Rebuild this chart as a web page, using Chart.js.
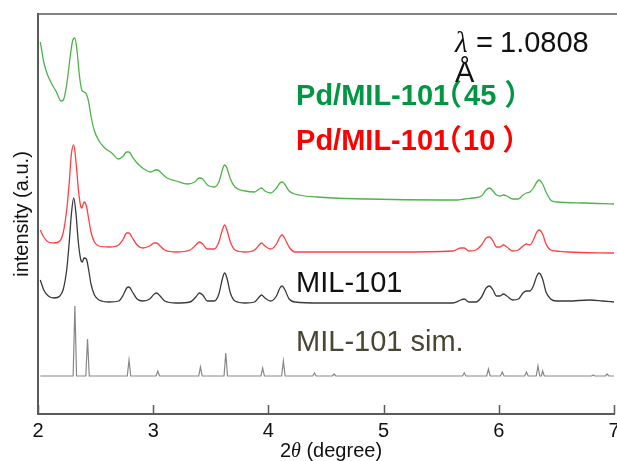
<!DOCTYPE html>
<html><head><meta charset="utf-8">
<script src="https://cdn.jsdelivr.net/npm/chart.js@4/dist/chart.umd.min.js"></script>
<style>html,body{margin:0;padding:0;background:#fff}#wrap{width:617px;height:461px}</style>
</head><body><div id="wrap"><canvas id="c" width="617" height="461"></canvas></div>
<script>
// ---- data (2θ in degrees, intensity in arbitrary units) ----
const xTicks = [2, 3, 4, 5, 6, 7];

const pd45X = [2.02,2.05,2.08,2.12,2.16,2.20,2.22,2.25,2.28,2.30,2.32,2.34,2.36,2.38,2.40,2.42,2.44,2.46,2.49,2.53,2.58,2.64,2.70,2.74,2.77,2.79,2.82,2.86,2.92,2.98,3.02,3.04,3.07,3.12,3.20,3.30,3.36,3.40,3.43,3.47,3.53,3.57,3.60,3.62,3.64,3.67,3.71,3.80,3.88,3.92,3.94,3.97,4.02,4.07,4.10,4.12,4.14,4.18,4.23,4.42,4.86,5.50,5.64,5.70,5.78,5.85,5.89,5.92,5.95,5.98,6.01,6.04,6.07,6.12,6.17,6.21,6.24,6.27,6.30,6.33,6.35,6.38,6.41,6.45,6.50,6.73,7.00];
const pd45Y = [372,352,340,330,322,313,314,330,358,373,376,362,338,324,322,320,312,298,283,273,266,261,255,258,262,262,257,251,245,242,244,244,241,236,233,230,232,236,235,229,227,232,244,249,246,235,227,223,222,225,226,223,221,226,231,232,230,223,220,217,215,214,214,215,216,218,224,226,223,219,218,219,218,215,215,219,221,222,226,232,234,230,222,214,212,211,210];

const pd10X = [2.02,2.05,2.09,2.14,2.19,2.22,2.25,2.27,2.29,2.31,2.33,2.35,2.37,2.38,2.40,2.42,2.44,2.46,2.49,2.53,2.62,2.70,2.74,2.77,2.79,2.82,2.86,2.91,2.97,3.01,3.03,3.06,3.10,3.20,3.32,3.37,3.40,3.43,3.47,3.53,3.57,3.60,3.62,3.64,3.67,3.71,3.80,3.88,3.92,3.94,3.97,4.02,4.07,4.10,4.12,4.14,4.18,4.23,4.45,5.10,5.60,5.67,5.70,5.74,5.80,5.85,5.89,5.92,5.95,5.98,6.01,6.04,6.07,6.12,6.17,6.21,6.24,6.27,6.30,6.33,6.35,6.38,6.41,6.45,6.50,6.60,7.00];
const pd10Y = [184,177,172,171,173,182,205,230,260,269,252,225,208,206,212,208,195,182,172,168,167,169,175,181,181,176,169,166,168,171,171,168,164,162,164,169,172,170,165,165,172,184,189,184,172,164,162,164,169,171,168,165,170,177,179,176,167,162,162,162,163,166,166,163,164,169,176,177,173,167,167,169,167,163,164,168,170,169,174,182,184,180,170,164,163,162,161];

const milX = [2.02,2.05,2.09,2.14,2.19,2.22,2.25,2.27,2.29,2.31,2.33,2.35,2.37,2.385,2.40,2.42,2.44,2.46,2.49,2.53,2.62,2.70,2.74,2.77,2.79,2.82,2.86,2.91,2.97,3.01,3.03,3.06,3.10,3.20,3.32,3.37,3.40,3.43,3.47,3.53,3.57,3.60,3.62,3.64,3.67,3.71,3.80,3.88,3.92,3.94,3.97,4.02,4.07,4.10,4.12,4.14,4.18,4.23,4.45,5.10,5.60,5.67,5.70,5.74,5.80,5.85,5.89,5.92,5.95,5.98,6.01,6.04,6.07,6.12,6.17,6.21,6.24,6.27,6.30,6.33,6.35,6.38,6.41,6.45,6.50,6.60,6.79,6.90,7.00];
const milY = [134,124,118,116,118,125,145,170,200,216,200,172,155,152,156,155,144,130,119,114,112,113,119,126,127,122,115,113,115,120,121,118,113,111,112,117,121,119,113,113,120,135,141,136,121,113,111,112,117,119,116,113,118,126,128,125,115,112,111,111,111,114,115,112,112,117,126,128,124,118,118,120,118,114,115,121,123,123,128,138,141,135,122,115,113,113,114,113,112];

const simX = [2.02,2.305,2.32,2.335,2.415,2.43,2.445,2.775,2.79,2.805,3.025,3.04,3.055,3.395,3.41,3.425,3.615,3.63,3.645,3.935,3.95,3.965,4.115,4.13,4.145,4.385,4.40,4.415,4.555,4.57,4.585,5.685,5.70,5.715,5.895,5.91,5.925,6.015,6.03,6.045,6.225,6.24,6.255,6.325,6.34,6.355,6.37,6.38,6.395,6.805,6.82,6.835,6.925,6.94,6.955,7.00];
const simY = [38,38,108,38,38,75,38,38,54,38,38,43,38,38,47,38,38,61,38,38,46,38,38,53,38,38,41,38,38,40,38,38,41,38,38,45,38,38,42,38,38,42,38,38,48,38,38,43,38,38,39,38,38,40,38,38];

const seriesNames = ['Pd/MIL-101（45）', 'Pd/MIL-101（10）', 'MIL-101', 'MIL-101 sim.'];
const xTitle = ['2', 'θ', ' (degree)'];
const yTitle = 'intensity (a.u.)';
const wavelength = ['λ', '=', '1.0808', 'Å'];

function pts(xs, ys) { return xs.map((x, i) => ({ x: x, y: ys[i] })); }

const SANS = '"Liberation Sans", Arial, Helvetica, sans-serif';
const CJK = '"Noto Sans CJK JP", "Noto Sans CJK SC", sans-serif';

function drawParts(ctx, x, y, parts, color) {
  ctx.fillStyle = color;
  ctx.textBaseline = 'alphabetic';
  ctx.textAlign = 'left';
  let cursor = x;
  parts.forEach((p, i) => {
    ctx.font = p.font;
    const m = ctx.measureText(p.t);
    let dx;
    if (i === 0) dx = x;
    else dx = cursor + (p.gap || 0) + m.actualBoundingBoxLeft;
    ctx.fillText(p.t, dx, y);
    cursor = dx + m.actualBoundingBoxRight;
  });
}

function splitParen(label) {
  const a = label.indexOf('（'), b = label.indexOf('）');
  return [label.slice(0, a), '（', label.slice(a + 1, b), '）'];
}

const deco = {
  id: 'deco',
  afterDraw(chart) {
    const ctx = chart.ctx, ca = chart.chartArea;
    const xs = chart.scales.x, ys = chart.scales.y;
    ctx.save();
    ctx.strokeStyle = '#5a5a5a'; ctx.lineWidth = 1.5;
    ctx.beginPath(); ctx.moveTo(ca.left, ca.top); ctx.lineTo(chart.width, ca.top); ctx.stroke();
    xTicks.forEach(t => {
      const px = Math.round(xs.getPixelForValue(t)) + 0.5;
      ctx.beginPath(); ctx.moveTo(px, ca.bottom); ctx.lineTo(px, ca.bottom - 9); ctx.stroke();
    });
    const tf = ['20px ' + SANS, 'italic 20px "Liberation Serif", serif', '20px ' + SANS];
    let tw = 0;
    xTitle.forEach((s, i) => { ctx.font = tf[i]; tw += ctx.measureText(s).width; });
    let cx = 331 - tw / 2;
    ctx.fillStyle = '#111'; ctx.textBaseline = 'alphabetic'; ctx.textAlign = 'left';
    xTitle.forEach((s, i) => { ctx.font = tf[i]; ctx.fillText(s, cx, 457); cx += ctx.measureText(s).width; });

    const lx = xs.getPixelForValue(4.24);
    const bold = 'bold 29px ' + SANS, boldC = 'bold 29px ' + CJK;
    const g = splitParen(seriesNames[0]);
    drawParts(ctx, lx, ys.getPixelForValue(309), [
      { t: g[0], font: bold }, { t: g[1], font: boldC, gap: 3 }, { t: g[2], font: bold, gap: 3 }, { t: g[3], font: boldC, gap: 9 }
    ], 'rgb(0,150,66)');
    const r = splitParen(seriesNames[1]);
    drawParts(ctx, lx, ys.getPixelForValue(264), [
      { t: r[0], font: bold }, { t: r[1], font: boldC, gap: 3 }, { t: r[2], font: bold, gap: 3 }, { t: r[3], font: boldC, gap: 9 }
    ], '#ff0000');
    ctx.font = '29px ' + SANS; ctx.fillStyle = '#111';
    ctx.fillText(seriesNames[2], lx, ys.getPixelForValue(122));
    ctx.fillStyle = 'rgb(74,70,52)';
    ctx.fillText(seriesNames[3], lx, ys.getPixelForValue(63));
    const wx = xs.getPixelForValue(5.62);
    drawParts(ctx, wx, ys.getPixelForValue(362), [
      { t: wavelength[0], font: 'italic 29px "Liberation Serif", serif' },
      { t: wavelength[1], font: '29px ' + SANS, gap: 10 },
      { t: wavelength[2], font: '29px ' + SANS, gap: 10 }
    ], '#111');
    ctx.font = '29px ' + SANS; ctx.fillStyle = '#111';
    ctx.fillText(wavelength[3], wx, ys.getPixelForValue(332));
    ctx.restore();
  }
};

const line = (data, color, w, mono) => ({
  data: data, borderColor: color, borderWidth: w, pointRadius: 0, fill: false,
  cubicInterpolationMode: mono ? 'monotone' : 'default', tension: mono ? 0.4 : 0
});

new Chart(document.getElementById('c'), {
  type: 'line',
  data: {
    datasets: [
      Object.assign(line(pts(pd45X, pd45Y), 'rgb(76,180,72)', 1.3, true), { label: seriesNames[0] }),
      Object.assign(line(pts(pd10X, pd10Y), 'rgb(255,64,64)', 1.3, true), { label: seriesNames[1] }),
      Object.assign(line(pts(milX, milY), 'rgb(58,58,58)', 1.3, true), { label: seriesNames[2] }),
      Object.assign(line(pts(simX, simY), 'rgb(135,135,135)', 1.2, false), { label: seriesNames[3] })
    ]
  },
  options: {
    responsive: false, animation: false, devicePixelRatio: 1,
    layout: { padding: { top: 14, right: 3, left: 0, bottom: 0 } },
    plugins: { legend: { display: false }, tooltip: { enabled: false } },
    scales: {
      x: {
        type: 'linear', min: 2, max: 7,
        afterBuildTicks: s => { s.ticks = xTicks.map(v => ({ value: v })); },
        afterFit: s => { s.height = 47; s.paddingLeft = 0; s.paddingRight = 0; },
        ticks: { font: { size: 20, family: SANS }, color: '#111', padding: 5, maxRotation: 0, autoSkip: false },
        grid: { display: true, drawOnChartArea: false, drawTicks: false },
        border: { display: true, color: '#5a5a5a', width: 2 }
      },
      y: {
        min: 0, max: 400,
        afterFit: s => { s.width = 38; },
        ticks: { display: false },
        grid: { display: false, drawTicks: false },
        border: { display: true, color: '#5a5a5a', width: 2 },
        title: { display: true, text: yTitle, font: { size: 20, family: SANS }, color: '#111', padding: { top: 10, bottom: 0 } }
      }
    }
  },
  plugins: [deco]
});
</script></body></html>
